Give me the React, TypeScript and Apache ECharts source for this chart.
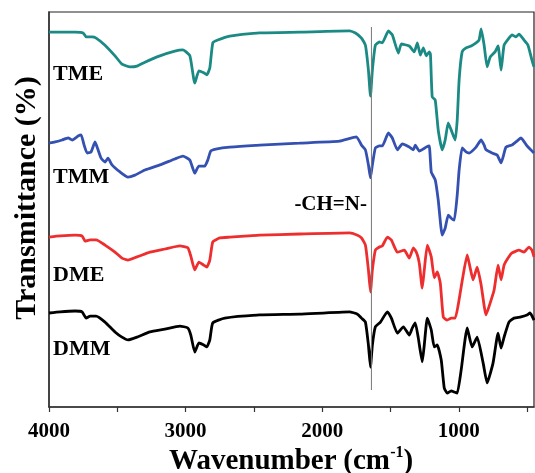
import React, { useEffect, useRef } from "react";
import * as echarts from "echarts";

// Wavenumber (cm-1), transmittance (%, curves offset vertically)
const TME: [number, number][] = [
  [4000, 94.9], [3918, 94.9], [3809, 94.9], [3750, 94.7], [3728, 93.7], [3685, 93.7], [3655, 93.4],
  [3590, 91.6], [3517, 88.9], [3466, 86.8], [3407, 86.1], [3356, 86.3], [3298, 87.3], [3188, 88.9],
  [3079, 90.1], [3020, 90.4], [2969, 88.9], [2933, 82.0], [2903, 85.1], [2867, 84.6], [2845, 84.1],
  [2823, 85.8], [2801, 92.2], [2765, 92.9], [2677, 93.9], [2458, 94.7], [2166, 94.9], [1801, 95.2],
  [1757, 94.7], [1713, 93.4], [1684, 91.6], [1662, 85.3], [1647, 78.7], [1633, 85.3], [1611, 91.6],
  [1582, 92.4], [1560, 92.2], [1516, 95.2], [1487, 94.2], [1443, 89.6], [1421, 91.9], [1363, 91.4],
  [1326, 89.9], [1304, 92.2], [1282, 89.1], [1260, 90.9], [1238, 88.9], [1217, 89.9], [1208, 89.3],
  [1195, 78.5], [1173, 77.7], [1151, 70.1], [1122, 65.1], [1100, 67.6], [1078, 71.9], [1056, 70.1],
  [1027, 67.6], [1012, 72.7], [998, 82.8], [976, 89.9], [947, 90.9], [910, 91.4], [874, 92.2],
  [852, 92.9], [837, 95.7], [815, 91.6], [793, 86.1], [771, 88.6], [735, 89.9], [713, 91.4],
  [691, 85.3], [669, 91.6], [633, 93.4], [611, 94.2], [582, 93.7], [560, 94.4], [523, 92.9],
  [494, 91.6], [465, 87.8], [450, 86.1],
];

const TMM: [number, number][] = [
  [4000, 66.8], [3955, 67.1], [3904, 67.6], [3860, 68.1], [3830, 67.6], [3787, 68.6], [3765, 68.9],
  [3743, 66.3], [3721, 64.3], [3692, 64.6], [3663, 67.1], [3641, 65.1], [3619, 63.0], [3590, 62.0],
  [3568, 63.0], [3539, 61.3], [3480, 59.5], [3422, 58.2], [3371, 58.7], [3298, 60.0], [3188, 61.3],
  [3079, 62.8], [3020, 63.5], [2969, 62.5], [2933, 59.2], [2903, 61.0], [2860, 61.0], [2838, 62.5],
  [2816, 64.8], [2779, 65.3], [2677, 65.8], [2458, 66.3], [2166, 66.8], [1874, 67.3], [1750, 68.4],
  [1713, 66.3], [1684, 65.1], [1662, 61.3], [1647, 58.0], [1633, 61.3], [1611, 65.6], [1582, 66.1],
  [1560, 66.1], [1516, 69.4], [1487, 68.1], [1450, 65.1], [1414, 66.6], [1363, 65.8], [1333, 65.1],
  [1319, 66.3], [1290, 64.8], [1238, 65.8], [1217, 66.1], [1202, 59.5], [1173, 57.5], [1151, 52.4],
  [1122, 43.5], [1100, 45.3], [1078, 48.6], [1056, 47.8], [1034, 47.3], [1012, 53.7], [998, 60.0],
  [976, 65.6], [947, 64.6], [925, 64.3], [874, 65.8], [837, 67.6], [815, 66.3], [801, 65.1],
  [757, 64.3], [720, 63.8], [691, 61.8], [655, 65.8], [611, 66.3], [582, 67.1], [545, 68.1],
  [501, 66.1], [450, 64.3],
];

const DME: [number, number][] = [
  [4000, 43.0], [3918, 43.3], [3809, 43.5], [3758, 43.3], [3736, 42.0], [3699, 42.3], [3655, 42.3],
  [3590, 41.0], [3517, 39.2], [3466, 37.7], [3422, 37.2], [3356, 38.0], [3261, 39.2], [3152, 40.0],
  [3042, 40.8], [2984, 40.3], [2962, 38.2], [2933, 34.7], [2903, 36.7], [2867, 35.9], [2845, 35.4],
  [2823, 37.2], [2801, 41.8], [2750, 42.8], [2677, 43.0], [2458, 43.5], [2166, 43.8], [1801, 44.1],
  [1742, 43.5], [1713, 42.8], [1684, 41.0], [1662, 34.7], [1647, 29.1], [1633, 34.7], [1611, 39.7],
  [1582, 40.5], [1560, 40.8], [1523, 43.0], [1494, 42.3], [1450, 39.2], [1399, 39.7], [1363, 37.7],
  [1333, 40.3], [1311, 39.2], [1290, 36.5], [1268, 30.1], [1253, 34.7], [1231, 41.0], [1202, 38.0],
  [1180, 32.7], [1158, 34.2], [1136, 31.4], [1114, 22.8], [1085, 22.0], [1056, 22.5], [1027, 22.5],
  [1005, 25.8], [983, 30.4], [939, 38.5], [917, 35.2], [896, 32.2], [866, 35.4], [837, 30.9],
  [801, 23.3], [771, 26.3], [742, 29.6], [713, 35.9], [691, 32.2], [669, 35.9], [640, 37.7],
  [611, 39.0], [560, 39.7], [523, 39.2], [487, 40.5], [465, 39.7], [450, 38.0],
];

const DMM: [number, number][] = [
  [4000, 23.8], [3918, 24.1], [3809, 24.3], [3758, 24.1], [3728, 22.5], [3699, 23.0], [3655, 23.0],
  [3590, 21.5], [3517, 19.0], [3466, 17.7], [3422, 17.0], [3356, 17.7], [3261, 19.0], [3152, 19.7],
  [3042, 20.5], [2984, 20.0], [2962, 18.2], [2933, 13.9], [2903, 16.2], [2867, 15.7], [2845, 15.2],
  [2823, 17.0], [2801, 21.3], [2713, 22.5], [2458, 23.3], [2166, 23.5], [1801, 24.1], [1742, 23.5],
  [1713, 22.5], [1684, 21.5], [1662, 15.7], [1647, 10.1], [1633, 15.7], [1611, 20.3], [1574, 21.5],
  [1523, 24.1], [1494, 22.5], [1450, 18.7], [1406, 20.3], [1363, 18.2], [1341, 20.0], [1319, 21.3],
  [1297, 17.5], [1268, 11.4], [1253, 15.7], [1231, 22.5], [1202, 19.5], [1180, 15.2], [1158, 15.7],
  [1129, 11.9], [1107, 4.8], [1085, 3.5], [1056, 4.1], [1034, 3.8], [1012, 3.5], [983, 9.4],
  [939, 20.0], [903, 15.2], [866, 17.7], [822, 11.1], [793, 6.1], [750, 11.1], [713, 18.7],
  [691, 14.9], [669, 17.7], [633, 21.5], [596, 22.5], [545, 22.8], [501, 23.3], [479, 23.8],
  [450, 22.0],
];

const IMINE_LINE: [number, number][] = [[1640, 96.2], [1640, 4.3]];

const SERIES_NAMES = ["TME", "TMM", "DME", "DMM"];
const SERIES_COLORS = ["#1b8a84", "#3451b2", "#ee2e2e", "#000000"];
const TICK_VALUES = [500, 1000, 1500, 2000, 2500, 3000, 3500, 4000];
const LABEL_VALUES = [1000, 2000, 3000, 4000];

const FONT = "'Liberation Serif', 'Times New Roman', serif";

export default function App() {
  const ref = useRef<HTMLDivElement>(null);
  useEffect(() => {
    if (!ref.current) return;
    const chart = echarts.init(ref.current, undefined, { renderer: "svg" });
    const data = [TME, TMM, DME, DMM];
    const labelY = [72, 175, 273, 347];
    chart.setOption({
      animation: false,
      grid: {
        left: 49, right: 1, top: 12, bottom: 66,
        show: true, borderColor: "#222", borderWidth: 1.2,
      },
      xAxis: {
        type: "value", inverse: true, min: 450, max: 4000,
        axisLine: { show: true, lineStyle: { color: "#333", width: 1.5 } },
        axisTick: { show: true, inside: false, length: 5, customValues: TICK_VALUES, lineStyle: { color: "#333", width: 1.2 } },
        axisLabel: {
          customValues: LABEL_VALUES, margin: 12,
          formatter: (v: number) => String(v),
          fontFamily: FONT, fontWeight: "bold", fontSize: 21, color: "#000",
        },
        splitLine: { show: false },
      },
      yAxis: {
        type: "value", min: 0, max: 100,
        axisLine: { show: true, lineStyle: { color: "#333", width: 1.5 } },
        axisTick: { show: false }, axisLabel: { show: false }, splitLine: { show: false },
      },
      series: [
        ...data.map((d, i) => ({
          name: SERIES_NAMES[i], type: "line", data: d, showSymbol: false, symbol: "none",
          smooth: 0.15,
          lineStyle: { color: SERIES_COLORS[i], width: 2.8 }, z: 3,
        })),
        {
          name: "imine", type: "line", data: IMINE_LINE, showSymbol: false, symbol: "none",
          lineStyle: { color: "#777", width: 1 }, z: 4,
        },
      ],
      graphic: [
        ...SERIES_NAMES.map((n, i) => ({
          type: "text", left: 53, top: labelY[i] - 11,
          style: { text: n, font: `bold 22px ${FONT}`, fill: "#000" },
        })),
        {
          type: "text", x: 367, y: 203,
          style: { text: "-CH=N-", font: `bold 21px ${FONT}`, fill: "#000", textAlign: "right", textVerticalAlign: "middle" },
        },
        {
          type: "text", x: 291, y: 458,
          style: {
            text: "{b|Wavenumber (cm}{s|-1}{b|)}",
            textAlign: "center", textVerticalAlign: "middle",
            rich: {
              b: { fontFamily: FONT, fontWeight: "bold", fontSize: 29, fill: "#000", lineHeight: 30, verticalAlign: "bottom" },
              s: { fontFamily: FONT, fontWeight: "bold", fontSize: 16, fill: "#000", lineHeight: 30, verticalAlign: "top", padding: [0, 0, 12, 0] },
            },
          },
        },
        {
          type: "text", x: 24, y: 198, rotation: Math.PI / 2,
          style: {
            text: "Transmittance (%)", font: `bold 30px ${FONT}`, fill: "#000",
            textAlign: "center", textVerticalAlign: "middle",
          },
        },
      ],
    });
    return () => chart.dispose();
  }, []);
  return <div ref={ref} style={{ position: "fixed", left: 0, top: 0, width: 535, height: 473 }} />;
}
